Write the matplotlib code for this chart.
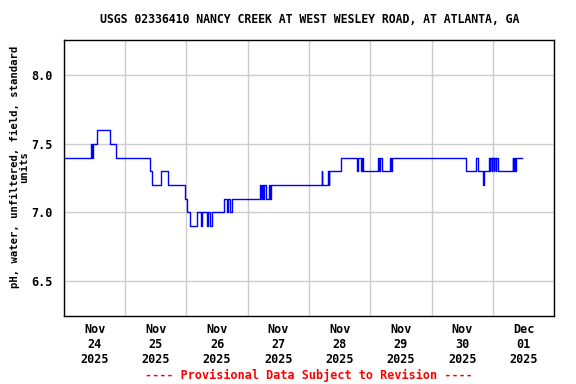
import numpy as np
import pandas as pd
import matplotlib
matplotlib.use("Agg")
import matplotlib.pyplot as plt
import matplotlib.dates as mdates

# hours after 2025-11-24 00:00 where the reading changes, and the new pH value
hours = [0.0, 10.6, 10.95, 11.35, 13.0, 18.0, 20.4, 33.9, 34.5, 37.9, 40.9,
         47.4, 48.3, 49.3, 52.2, 53.5, 54.0, 56.1, 56.6, 57.4, 58.1,
         62.6, 63.7, 64.3, 65.0, 65.9,
         76.7, 77.1, 77.5, 78.0, 78.4, 79.2, 80.3, 80.7, 81.0,
         101.0, 101.2, 103.4, 103.7, 104.0, 108.5,
         114.8, 115.3, 116.2, 116.6, 117.0,
         123.0, 123.4, 123.8, 124.4, 127.6, 128.0, 128.4, 128.8,
         157.4, 161.3, 162.1, 164.3, 164.7,
         166.4, 166.8, 167.0, 167.6, 167.8, 168.4, 168.6, 169.2, 169.4, 169.9,
         175.8, 176.0, 176.3, 176.6, 176.9, 179.3]
ph = [7.4, 7.5, 7.4, 7.5, 7.6, 7.5, 7.4, 7.3, 7.2, 7.3, 7.2,
      7.1, 7.0, 6.9, 7.0, 6.9, 7.0, 6.9, 7.0, 6.9, 7.0,
      7.1, 7.0, 7.1, 7.0, 7.1,
      7.2, 7.1, 7.2, 7.1, 7.2, 7.1, 7.2, 7.1, 7.2,
      7.3, 7.2, 7.3, 7.2, 7.3, 7.4,
      7.3, 7.4, 7.3, 7.4, 7.3,
      7.4, 7.3, 7.4, 7.3, 7.4, 7.3, 7.4, 7.4,
      7.3, 7.4, 7.3, 7.2, 7.3,
      7.4, 7.3, 7.4, 7.3, 7.4, 7.3, 7.4, 7.3, 7.4, 7.3,
      7.4, 7.3, 7.4, 7.3, 7.4, 7.4]

start = pd.Timestamp("2025-11-24")
times = start + pd.to_timedelta(hours, unit="h")

title = "USGS 02336410 NANCY CREEK AT WEST WESLEY ROAD, AT ATLANTA, GA"
ylabel = "pH, water, unfiltered, field, standard\nunits"
note = "---- Provisional Data Subject to Revision ----"
yticks = [6.5, 7.0, 7.5, 8.0]

font = {"family": "DejaVu Sans Mono", "weight": "bold", "size": 8.5}

fig = plt.figure(figsize=(5.76, 3.84), dpi=100)
ax = fig.add_axes([0.111, 0.177, 0.851, 0.72])

ax.plot(times, ph, color="#0000ff", linewidth=1, drawstyle="steps-post")

ax.set_xlim(start, start + pd.Timedelta(days=8))
ax.set_ylim(6.245, 8.26)

# grid at midnight, labels at noon
ax.xaxis.set_major_locator(mdates.DayLocator())
ax.xaxis.set_major_formatter(plt.NullFormatter())
ax.xaxis.set_minor_locator(mdates.HourLocator(byhour=[12]))
ax.xaxis.set_minor_formatter(mdates.DateFormatter("%b\n%d\n%Y"))
ax.tick_params(axis="x", which="both", length=0, pad=5)
for lab in ax.get_xticklabels(minor=True):
    lab.set(**font)

ax.set_yticks(yticks)
ax.set_yticklabels([f"{v:.1f}" for v in yticks], **font)
ax.tick_params(axis="y", length=0, pad=8)

ax.grid(True, which="major", color="#cccccc", linewidth=1)
ax.set_axisbelow(True)
for s in ax.spines.values():
    s.set_linewidth(1)

ax.set_ylabel(ylabel, linespacing=0.95,
              family="DejaVu Sans Mono", weight="bold", size=7.6)
ax.yaxis.set_label_coords(-0.07, 0.54)
fig.text(0.537, 0.95, title, ha="center", va="center",
         family="DejaVu Sans Mono", weight="bold", size=8.3)
fig.text(0.537, 0.023, note, ha="center", va="center", color="red", **font)

fig.savefig("out.png", dpi=100)
